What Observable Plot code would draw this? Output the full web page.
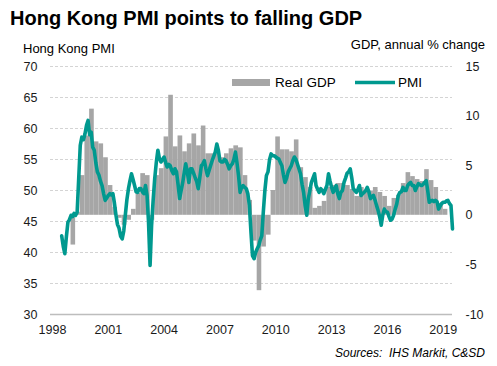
<!DOCTYPE html>
<html><head><meta charset="utf-8">
<script src="https://cdn.jsdelivr.net/npm/d3@7"></script>
<script src="https://cdn.jsdelivr.net/npm/@observablehq/plot@0.6"></script>
<style>
body{margin:0;background:#fff;}
#wrap{position:relative;width:497px;height:366px;overflow:hidden;background:#fff}
</style></head><body>
<div id="wrap"></div>
<script>
// ---- Data ----
// Monthly Hong Kong PMI, July 1998 .. July 2019
const pmiStartYear = 1998, pmiStartMonth = 6; // July 1998 (0-based month)
const pmi = [
  42.7, 41.0, 39.8, 42.5, 44.9, 45.3,
  46.0, 45.8, 46.3, 46.0, 46.5, 52.0, 57.3, 58.6, 58.2, 59.1, 60.5, 61.3,
  59.0, 59.4, 57.0, 56.5, 54.5, 53.0, 52.5, 51.5, 50.8, 49.5, 48.4, 48.8,
  49.2, 49.5, 49.3, 49.5, 48.0, 46.0, 44.5, 43.9, 42.6, 42.2, 43.5, 46.0,
  48.5, 50.3, 51.5, 52.7, 51.8, 50.8, 49.8, 49.7, 50.3, 50.3, 49.8, 49.5,
  50.8, 49.2, 45.0, 37.9, 44.4, 48.5, 51.9, 54.5, 56.5, 55.2, 54.6, 55.0,
  55.4, 54.5, 53.8, 54.2, 54.0, 53.2, 52.7, 53.5, 53.0, 51.0, 48.7, 50.0,
  51.3, 53.0, 54.3, 53.0, 51.3, 53.5, 53.5, 52.8, 52.1, 51.5, 50.3, 52.0,
  54.0, 54.3, 54.8, 53.5, 52.4, 53.2, 54.0, 54.8, 55.5, 56.2, 57.5, 56.5,
  54.8, 54.6, 54.6, 55.0, 54.8, 54.2, 53.5, 54.0, 54.3, 55.0, 56.2, 54.5,
  52.4, 49.7, 50.5, 50.8, 50.5, 50.3, 49.5, 47.6, 43.3, 39.5, 39.0, 40.0,
  40.6, 41.1, 42.0, 42.7, 46.5, 50.0, 52.4, 53.0, 55.0, 55.9, 55.6, 55.6,
  55.4, 55.2, 55.1, 54.5, 54.0, 52.5, 51.3, 52.0, 53.0, 53.5, 54.0, 54.8,
  55.4, 55.0, 54.3, 53.5, 52.7, 51.0, 49.7, 47.5, 46.0, 48.7, 50.0, 51.3,
  52.0, 52.7, 50.8, 50.2, 49.7, 50.3, 50.0, 49.5, 50.2, 50.8, 52.7, 51.5,
  50.5, 49.7, 50.2, 50.8, 49.5, 48.7, 49.7, 50.0, 51.3, 52.0, 52.8, 53.0,
  53.5, 52.0, 50.3, 50.0, 49.7, 50.2, 50.8, 49.2, 49.5, 49.7, 50.0, 50.5,
  49.8, 48.7, 49.0, 49.2, 48.5, 47.6, 46.8, 45.8, 44.4, 46.0, 47.0, 46.6,
  46.5, 45.8, 45.2, 45.4, 46.0, 47.0, 47.8, 49.2, 49.7, 49.8, 50.5, 50.0,
  50.0, 50.8, 51.1, 51.3, 50.8, 50.8, 50.0, 50.6, 51.1, 50.9, 50.8, 51.0,
  51.3, 51.6, 50.0, 48.1, 48.3, 48.4, 48.2, 48.4, 48.2, 47.0, 47.5, 47.9,
  48.1, 48.1, 48.3, 48.4, 47.9, 47.6, 43.8
];
// Quarterly real GDP, annual % change, 1999 Q1 .. 2019 Q1
const gdpStartYear = 1999;
const gdp = [
  -3.0, 0.3, 4.0, 8.0,
  10.7, 7.4, 7.2, 5.8,
  3.0, 0.8, -0.3, -1.0,
  -0.5, 0.6, 2.2, 4.2,
  4.0, -0.5, 4.0, 4.7,
  7.9, 12.1, 6.9, 8.0,
  6.4, 7.2, 8.2, 7.0,
  9.0, 6.2, 6.2, 6.5,
  5.8, 6.2, 6.7, 7.0,
  6.8, 4.0, 1.5, -2.6,
  -7.6, -3.2, -2.0, 2.5,
  7.9, 6.6, 6.6, 6.4,
  7.6, 4.8, 3.8, 2.8,
  0.7, 0.9, 1.4, 2.8,
  3.0, 3.2, 3.2, 3.0,
  2.6, 1.9, 2.8, 2.4,
  2.4, 2.8, 2.3, 1.9,
  0.9, 1.7, 2.0, 3.2,
  4.3, 3.9, 3.6, 3.4,
  4.6, 3.5, 2.8, 1.2,
  0.6
];
const pmiTicks = [30, 35, 40, 45, 50, 55, 60, 65, 70];
const gdpTicks = [-10, -5, 0, 5, 10, 15];
const yearTicks = [1998, 2001, 2004, 2007, 2010, 2013, 2016, 2019];

// dual axis: left 30..70 <-> right -10..15
const leftDom = [30, 70], rightDom = [-10, 15];
const toLeft = g => leftDom[0] + (g - rightDom[0]) * (leftDom[1] - leftDom[0]) / (rightDom[1] - rightDom[0]);

const pmiRows = pmi.map((v, i) => ({date: new Date(pmiStartYear, pmiStartMonth + i, 1), pmi: v}));
const gdpRows = gdp.map((v, i) => ({
  start: new Date(gdpStartYear, 3 * i, 1),
  end: new Date(gdpStartYear, 3 * i + 3, 1),
  gdp: v
}));

const font = "Liberation Sans, Arial, sans-serif";
const teal = "#00998F";
const grey = "#A6A6A6";

const chart = Plot.plot({
  width: 497, height: 366,
  marginTop: 66, marginBottom: 52, marginLeft: 50, marginRight: 45,
  style: {fontFamily: font, fontSize: "12.5px", background: "#fff", color: "#1a1a1a", overflow: "visible"},
  x: {type: "time", domain: [new Date(1997, 10, 24), new Date(2019, 6, 1)]},
  y: {domain: leftDom},
  marks: [
    Plot.ruleY(pmiTicks.filter(d => d > 30), {stroke: "#D4D4D4", strokeWidth: 1, strokeDasharray: "3,2"}),
    Plot.rect(gdpRows, {x1: "start", x2: "end", y1: toLeft(0), y2: d => toLeft(d.gdp), fill: grey}),
    Plot.ruleY([30], {stroke: "#BDBDBD", strokeWidth: 1.5}),
    Plot.line(pmiRows, {x: "date", y: "pmi", stroke: teal, strokeWidth: 3.6, strokeLinejoin: "round", strokeLinecap: "round"}),
    Plot.axisY(pmiTicks, {anchor: "left", tickSize: 0, tickPadding: 13, tickFormat: d => String(d), label: null}),
    Plot.axisY(gdpTicks.map(toLeft), {anchor: "right", tickSize: 0, tickPadding: 13,
      tickFormat: d => String(Math.round(rightDom[0] + (d - leftDom[0]) * (rightDom[1] - rightDom[0]) / (leftDom[1] - leftDom[0]))), label: null}),
    Plot.axisX(yearTicks.map(y => new Date(y, 0, 1)), {tickSize: 0, tickPadding: 11, tickFormat: d => String(d.getFullYear()), label: null})
  ]
});

const svg = d3.select(chart);
function txt(x, y, s, opts) {
  const t = svg.append("text").attr("x", x).attr("y", y).text(s)
    .attr("font-family", font).attr("fill", opts.fill || "#000")
    .attr("font-size", opts.size).attr("text-anchor", opts.anchor || "start");
  if (opts.weight) t.attr("font-weight", opts.weight);
  if (opts.style) t.attr("font-style", opts.style);
  return t;
}
txt(10, 25, "Hong Kong PMI points to falling GDP", {size: 20, weight: "bold"});
txt(23, 53, "Hong Kong PMI", {size: 13});
txt(485, 49, "GDP, annual % change", {size: 13, anchor: "end"});
// legend
svg.append("rect").attr("x", 232).attr("y", 79).attr("width", 38).attr("height", 7).attr("fill", grey);
txt(275, 87, "Real GDP", {size: 13.5});
svg.append("line").attr("x1", 355).attr("x2", 395).attr("y1", 82.5).attr("y2", 82.5).attr("stroke", teal).attr("stroke-width", 3.6);
txt(398, 87, "PMI", {size: 13.5});
txt(485, 357, "Sources:  IHS Markit, C&SD", {size: 12, anchor: "end", style: "italic"});

document.getElementById("wrap").appendChild(chart);
</script>
</body></html>
